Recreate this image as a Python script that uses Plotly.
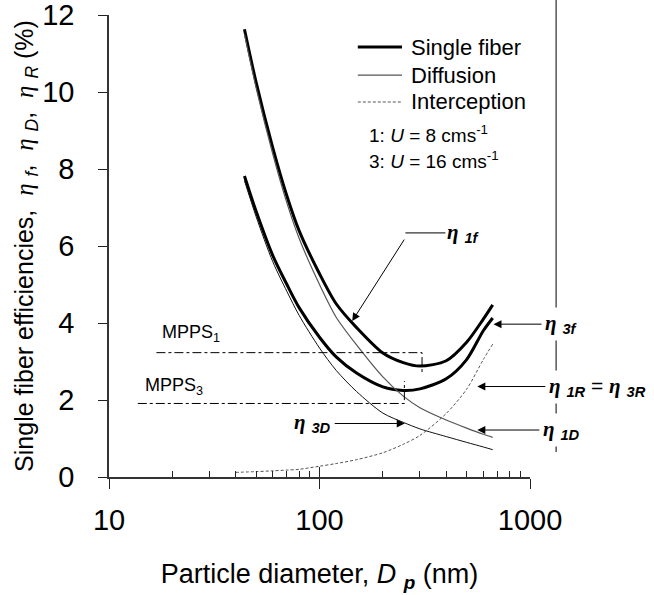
import numpy as np
import plotly.graph_objects as go

# ---------------- data ----------------
d_f = [44, 50, 60, 70, 80, 100, 120, 150, 200, 250, 300, 400, 500, 600, 665]
eta_1f = [11.63, 10.25, 8.55, 7.3, 6.4, 5.28, 4.5, 3.88, 3.22, 2.97, 2.88, 3.02, 3.5, 4.1, 4.47]
eta_3f = [7.82, 6.9, 5.75, 5.0, 4.4, 3.63, 3.12, 2.7, 2.34, 2.25, 2.29, 2.55, 3.05, 3.8, 4.13]
eta_1D = [11.5, 10.11, 8.39, 7.12, 6.2, 5.0, 4.15, 3.43, 2.6, 2.1, 1.8, 1.48, 1.27, 1.11, 1.03]
eta_3D = [7.7, 6.76, 5.59, 4.82, 4.2, 3.35, 2.77, 2.22, 1.66, 1.42, 1.25, 1.05, 0.90, 0.78, 0.71]
d_R = [40, 50, 60, 70, 80, 100, 120, 150, 200, 250, 300, 400, 500, 600, 665]
eta_R = [0.12, 0.14, 0.16, 0.18, 0.2, 0.28, 0.35, 0.45, 0.63, 0.85, 1.08, 1.65, 2.28, 3.05, 3.45]

# MPPS guide lines (particle diameter, efficiency)
mpps1_d = [16.8, 307, 307]
mpps1_y = [3.23, 3.23, 2.65]
mpps3_d = [13.7, 253, 253]
mpps3_y = [1.91, 1.91, 2.49]

x_ticks = [10, 100, 1000]
x_minor = [20, 30, 40, 50, 60, 70, 80, 90, 200, 300, 400, 500, 600, 700, 800, 900]
y_ticks = [0, 2, 4, 6, 8, 10, 12]

legend_names = ["Single fiber", "Diffusion", "Interception"]

FONT = "Liberation Sans"
ETA = "<span style=\"font-family:'Liberation Serif'\"><b><i>η</i></b></span>"
ETA_T = "<span style=\"font-family:'Liberation Serif'\"><i>η</i></span>"

THICK = dict(color="black", width=3, shape="spline", smoothing=0.8)
THIN1 = dict(color="#555555", width=1.2, shape="spline", smoothing=0.8)
THIN3 = dict(color="#111111", width=1, shape="spline", smoothing=0.8)
DASH = dict(color="#555555", width=1, dash="3px,2px", shape="spline", smoothing=0.8)

fig = go.Figure()
fig.add_trace(go.Scatter(x=d_f, y=eta_1f, mode="lines", name="Single fiber 1", line=THICK))
fig.add_trace(go.Scatter(x=d_f, y=eta_3f, mode="lines", name="Single fiber 3", line=THICK))
fig.add_trace(go.Scatter(x=d_f, y=eta_1D, mode="lines", name="Diffusion 1", line=THIN1))
fig.add_trace(go.Scatter(x=d_f, y=eta_3D, mode="lines", name="Diffusion 3", line=THIN3))
fig.add_trace(go.Scatter(x=d_R, y=eta_R, mode="lines", name="Interception", line=DASH))
fig.add_trace(go.Scatter(x=mpps1_d, y=mpps1_y, mode="lines", xaxis="x2",
                         line=dict(color="black", width=1, dash="dashdot")))
fig.add_trace(go.Scatter(x=mpps3_d, y=mpps3_y, mode="lines", xaxis="x2",
                         line=dict(color="black", width=1, dash="dashdot")))

lg = np.log10
AF = dict(size=21)
ann = []
# eta_1f: bent leader line
ann.append(dict(x=lg(143), y=4.05, xref="x", yref="y", text="", showarrow=True,
                ax=53, ay=-83, arrowhead=2, arrowsize=1.6, arrowwidth=1, arrowcolor="black"))
ann.append(dict(x=lg(256), y=6.34, xref="x", yref="y",
                text=ETA + " <sub><b><i>1f</i></b></sub>", showarrow=True, ax=58, ay=0,
                arrowhead=0, arrowwidth=1, arrowcolor="black", font=AF))
ann.append(dict(x=lg(671), y=3.97, xref="x", yref="y",
                text=ETA + " <sub><b><i>3f</i></b></sub>", showarrow=True, ax=68, ay=0,
                arrowhead=2, arrowsize=1.6, arrowwidth=1, arrowcolor="black",
                bgcolor="white", borderpad=3, font=AF))
ann.append(dict(x=lg(562), y=2.35, xref="x", yref="y",
                text=ETA + " <sub><b><i>1R</i></b></sub> = " + ETA + " <sub><b><i>3R</i></b></sub>",
                showarrow=True, ax=120, ay=0,
                arrowhead=2, arrowsize=1.6, arrowwidth=1, arrowcolor="black",
                bgcolor="white", borderpad=3, font=AF))
ann.append(dict(x=lg(562), y=1.22, xref="x", yref="y",
                text=ETA + " <sub><b><i>1D</i></b></sub>", showarrow=True, ax=84, ay=0,
                arrowhead=2, arrowsize=1.6, arrowwidth=1, arrowcolor="black",
                bgcolor="white", borderpad=3, font=AF))
ann.append(dict(x=lg(254), y=1.39, xref="x", yref="y",
                text=ETA + " <sub><b><i>3D</i></b></sub>", showarrow=True, ax=-92, ay=0,
                arrowhead=2, arrowsize=1.6, arrowwidth=1, arrowcolor="black",
                borderpad=3, font=AF))
# MPPS labels
ann.append(dict(x=lg(24.5), y=3.74, xref="x", yref="y", text="MPPS<sub>1</sub>",
                showarrow=False, font=dict(size=18)))
ann.append(dict(x=lg(20.3), y=2.34, xref="x", yref="y", text="MPPS<sub>3</sub>",
                showarrow=False, font=dict(size=18)))
# velocity notes
ann.append(dict(x=0.613, y=0.742, xref="paper", yref="paper", xanchor="left", yanchor="middle",
                text="1: <i>U</i> = 8 cms<sup>-1</sup>", showarrow=False, font=dict(size=19)))
ann.append(dict(x=0.613, y=0.686, xref="paper", yref="paper", xanchor="left", yanchor="middle",
                text="3: <i>U</i> = 16 cms<sup>-1</sup>", showarrow=False, font=dict(size=19)))

# hand-made legend (swatches + labels)
leg_y = [0.9307, 0.870, 0.8117]
leg_styles = [dict(color="black", width=3), dict(color="#555555", width=1.2),
              dict(color="#555555", width=1, dash="3px,2px")]
shapes = [dict(type="line", xref="paper", yref="paper", x0=1.062, x1=1.062,
               y0=0.054, y1=1.04, line=dict(color="black", width=1), layer="below")]
for name, yy, st in zip(legend_names, leg_y, leg_styles):
    shapes.append(dict(type="line", xref="paper", yref="paper", x0=0.591, x1=0.696,
                       y0=yy, y1=yy, line=st))
    ann.append(dict(x=0.713, y=yy, xref="paper", yref="paper", xanchor="left",
                    yanchor="middle", text=name, showarrow=False, font=dict(size=22)))

fig.update_layout(
    width=654, height=595,
    margin=dict(l=109, r=124, t=15, b=118, autoexpand=False),
    paper_bgcolor="white", plot_bgcolor="white",
    font=dict(family=FONT, color="black", size=18),
    showlegend=False,
    annotations=ann,
    shapes=shapes,
    xaxis=dict(type="log", range=[1, 3], tickvals=x_ticks, ticktext=["10", "100", "1000"],
               ticks="outside", ticklen=10, tickwidth=1, tickcolor="#222",
               showline=True, linecolor="#333", linewidth=1.5, showgrid=False, zeroline=False,
               tickfont=dict(size=29), ticklabelstandoff=6, automargin=False,
               ticklabeloverflow="allow",
               minor=dict(tickmode="array", tickvals=x_minor, ticks="inside", ticklen=6,
                          tickwidth=1, tickcolor="#222", showgrid=False),
               title=dict(text="Particle diameter, <i>D</i> <sub><b><i>p</i></b></sub> (nm)",
                          font=dict(size=27), standoff=30)),
    xaxis2=dict(type="log", range=[1, 3], overlaying="x", anchor="y", side="bottom",
                tickvals=x_ticks, ticks="inside", ticklen=10, tickwidth=1, tickcolor="#222",
                showticklabels=False, showline=False, showgrid=False, zeroline=False,
                automargin=False),
    yaxis=dict(range=[0, 12], tickvals=y_ticks, ticks="outside", ticklen=9, tickwidth=1,
               tickcolor="#222", showline=True, linecolor="#333", linewidth=1.5,
               showgrid=False, zeroline=False, tickfont=dict(size=29), ticklabelstandoff=18,
               automargin=False, ticklabeloverflow="allow",
               title=dict(text="Single fiber efficiencies,  " + ETA_T + " <sub><i>f</i></sub>,  "
                               + ETA_T + " <sub><i>D</i></sub>,  " + ETA_T + " <sub><i>R</i></sub> (%)",
                          font=dict(size=25), standoff=0)),
)

fig.write_html("out.html")
